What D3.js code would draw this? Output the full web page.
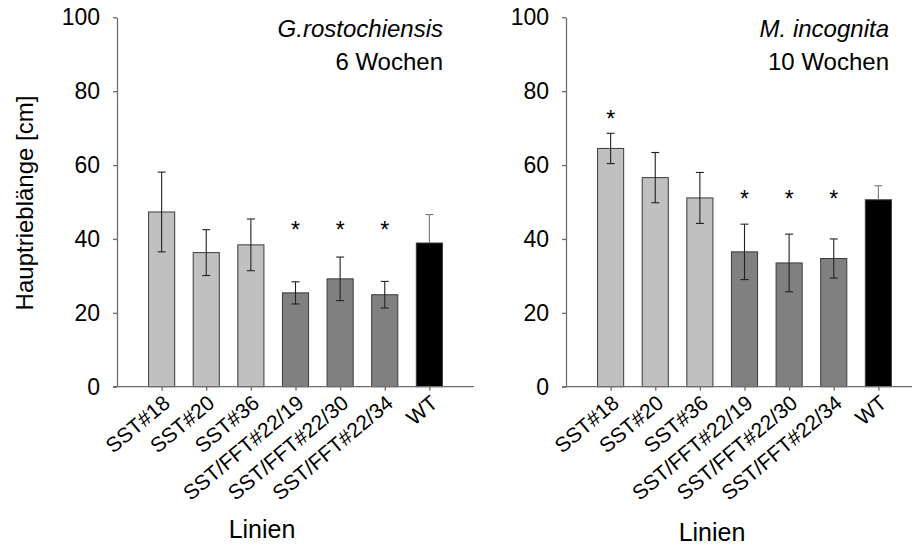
<!DOCTYPE html>
<html>
<head>
<meta charset="utf-8">
<script src="https://cdn.jsdelivr.net/npm/d3@7"></script>
<style>
  html, body { margin: 0; padding: 0; background: #fff; }
  svg { display: block; font-family: "Liberation Sans", Arial, sans-serif; }
</style>
</head>
<body>
<svg id="chart" width="912" height="548"></svg>
<script>
// ---- data ----
const categories = ["SST#18", "SST#20", "SST#36", "SST/FFT#22/19", "SST/FFT#22/30", "SST/FFT#22/34", "WT"];
const groups = ["light", "light", "light", "dark", "dark", "dark", "black"];
const gMeans  = [47.3, 36.3, 38.4, 25.4, 29.2, 24.9, 38.9];
const gErrors = [10.8, 6.2, 7.0, 3.0, 5.9, 3.6, 7.7];
const gStars  = [null, null, null, 43.4, 43.4, 43.4, null];
const mMeans  = [64.5, 56.6, 51.1, 36.5, 33.5, 34.7, 50.6];
const mErrors = [4.1, 6.8, 6.9, 7.5, 7.8, 5.3, 3.8];
const mStars  = [73.6, null, null, 52.0, 52.0, 52.0, null];
const yTicks = [0, 20, 40, 60, 80, 100];
const panelTitles = [["G.rostochiensis", "6 Wochen"], ["M. incognita", "10 Wochen"]];
const yTitle = "Hauptrieblänge [cm]";
const xTitle = "Linien";

const fills = { light: "#c0c0c0", dark: "#808080", black: "#000000" };
const axisColor = "#6e6e6e";

const svg = d3.select("#chart");
const plotTop = 17.3, plotBottom = 386.7, plotW = 357;
const y = d3.scaleLinear().domain([0, 100]).range([plotBottom, plotTop]);

const panels = [
  { x0: 117, means: gMeans, errors: gErrors, stars: gStars, titles: panelTitles[0], xTitleX: 262, xTitleY: 538 },
  { x0: 566, means: mMeans, errors: mErrors, stars: mStars, titles: panelTitles[1], xTitleX: 712, xTitleY: 541 }
];

panels.forEach((p, pi) => {
  const g = svg.append("g").attr("transform", `translate(${p.x0},0)`);
  const x = d3.scalePoint().domain(categories).range([0, plotW]).padding(1);
  const step = x.step();
  const bw = step * 0.585;

  const rows = categories.map((c, i) => ({ c, m: p.means[i], e: p.errors[i], s: p.stars[i], grp: groups[i] }));

  // bars
  g.selectAll("rect.bar").data(rows).join("rect")
    .attr("class", "bar")
    .attr("x", d => x(d.c) - bw / 2)
    .attr("y", d => y(d.m))
    .attr("width", bw)
    .attr("height", d => y(0) - y(d.m))
    .attr("fill", d => fills[d.grp])
    .attr("stroke", "#3a3a3a")
    .attr("stroke-width", 1);

  // error bars
  const cap = 4;
  const eb = g.selectAll("g.err").data(rows).join("g").attr("class", "err")
    .attr("stroke", d => d.grp === "black" ? "#777" : "#222")
    .attr("stroke-width", 1.1);
  eb.append("line")
    .attr("x1", d => x(d.c)).attr("x2", d => x(d.c))
    .attr("y1", d => d.grp === "black" ? y(d.m) : y(d.m - d.e))
    .attr("y2", d => y(d.m + d.e));
  eb.append("line")
    .attr("x1", d => x(d.c) - cap).attr("x2", d => x(d.c) + cap)
    .attr("y1", d => y(d.m + d.e)).attr("y2", d => y(d.m + d.e));
  eb.filter(d => d.grp !== "black").append("line")
    .attr("x1", d => x(d.c) - cap).attr("x2", d => x(d.c) + cap)
    .attr("y1", d => y(d.m - d.e)).attr("y2", d => y(d.m - d.e));

  // stars
  g.selectAll("text.star").data(rows.filter(d => d.s != null)).join("text")
    .attr("class", "star")
    .attr("x", d => x(d.c))
    .attr("y", d => y(d.s) + 12)
    .attr("text-anchor", "middle")
    .attr("font-size", 23)
    .attr("fill", "#000")
    .text("*");

  // y axis
  const ya = g.append("g").call(d3.axisLeft(y).tickValues(yTicks).tickSize(4).tickSizeOuter(0).tickPadding(13));
  ya.selectAll("path, line").attr("stroke", axisColor).attr("stroke-width", 1.3);
  ya.selectAll("text").attr("font-size", 23).attr("fill", "#000")
    .attr("font-family", "'Liberation Sans', Arial, sans-serif");

  // x axis
  const xa = g.append("g").attr("transform", `translate(0,${plotBottom})`)
    .call(d3.axisBottom(x).tickSize(4).tickSizeOuter(0).tickFormat(""));
  xa.select("path.domain").remove();
  xa.selectAll("line").attr("stroke", axisColor).attr("stroke-width", 1.3);
  xa.append("line").attr("x1", -4).attr("x2", plotW).attr("y1", 0).attr("y2", 0)
    .attr("stroke", axisColor).attr("stroke-width", 1.3);

  // rotated category labels
  g.selectAll("text.cat").data(categories).join("text")
    .attr("class", "cat")
    .attr("transform", d => `translate(${x(d) + 5},${plotBottom + 13}) rotate(-40)`)
    .attr("text-anchor", "end")
    .attr("dy", "0.35em")
    .attr("font-size", 21)
    .attr("fill", "#000")
    .text(d => d);

  // panel title
  const tx = plotW - 31 + (pi === 1 ? -3 : 0);
  g.append("text").attr("x", tx).attr("y", 37).attr("text-anchor", "end")
    .attr("font-size", 24).attr("font-style", "italic").text(p.titles[0]);
  g.append("text").attr("x", tx).attr("y", 70).attr("text-anchor", "end")
    .attr("font-size", 24).text(p.titles[1]);

  // x title
  svg.append("text").attr("x", p.xTitleX).attr("y", p.xTitleY).attr("text-anchor", "middle")
    .attr("font-size", 25).text(xTitle);
});

// y title
svg.append("text")
  .attr("transform", `translate(33,${(plotTop + plotBottom) / 2 + 1}) rotate(-90)`)
  .attr("text-anchor", "middle")
  .attr("font-size", 24)
  .text(yTitle);
</script>
</body>
</html>
